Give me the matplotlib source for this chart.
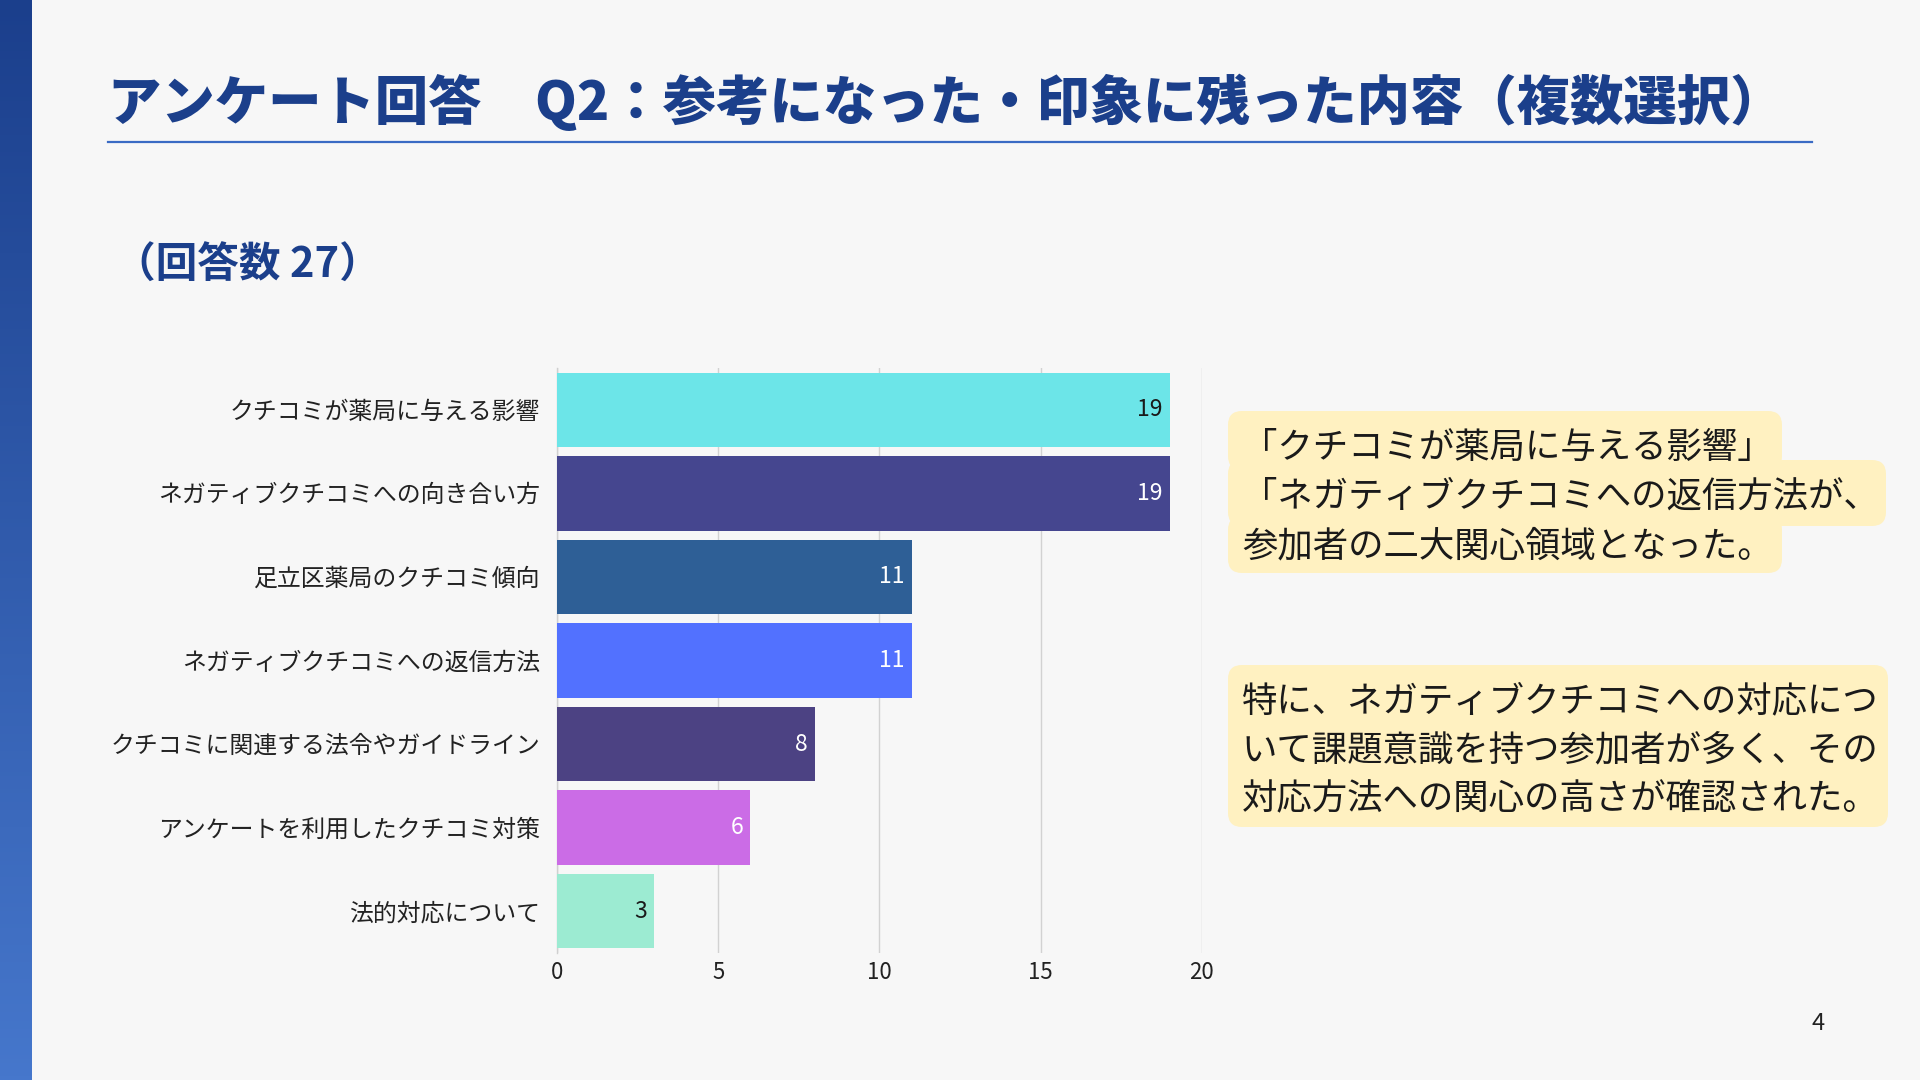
import matplotlib
matplotlib.use("Agg")
import matplotlib.pyplot as plt
import numpy as np
from matplotlib.patches import FancyBboxPatch
from matplotlib.colors import LinearSegmentedColormap

plt.rcParams['font.family'] = ['Noto Sans CJK JP', 'DejaVu Sans']

# ---- data ----
categories = [
    "クチコミが薬局に与える影響",
    "ネガティブクチコミへの向き合い方",
    "足立区薬局のクチコミ傾向",
    "ネガティブクチコミへの返信方法",
    "クチコミに関連する法令やガイドライン",
    "アンケートを利用したクチコミ対策",
    "法的対応について",
]
values = [19, 19, 11, 11, 8, 6, 3]
bar_colors = ["#6ce5e8", "#45468f", "#2e5f96", "#5271ff", "#4c4283", "#cb6ce6", "#9cebd2"]
label_colors = ["#1a1a1a", "white", "white", "white", "white", "white", "#1a1a1a"]
x_ticks = [0, 5, 10, 15, 20]

title = "アンケート回答　Q2：参考になった・印象に残った内容（複数選択）"
subtitle = "（回答数 27）"
box1_lines = ["「クチコミが薬局に与える影響」",
              "「ネガティブクチコミへの返信方法が、",
              "参加者の二大関心領域となった。"]
box2_lines = ["特に、ネガティブクチコミへの対応につ",
              "いて課題意識を持つ参加者が多く、その",
              "対応方法への関心の高さが確認された。"]
page_no = "4"

BG = "#f7f7f7"
NAVY = "#1b3f8b"
BOX = "#fff1c1"

fig = plt.figure(figsize=(19.2, 10.8), dpi=100, facecolor=BG)

# overlay in pixel coordinates
ov = fig.add_axes([0, 0, 1, 1], zorder=0)
ov.axis("off")
ov.set_facecolor(BG)

# left gradient bar
grad = np.linspace(0, 1, 256).reshape(-1, 1)
cmap = LinearSegmentedColormap.from_list("g", ["#1b3f8c", "#4677cc"])
ov.imshow(grad, extent=(0, 32, 1080, 0), cmap=cmap, aspect="auto", zorder=1)
ov.set_xlim(0, 1920)
ov.set_ylim(1080, 0)

# title
ov.text(108, 102, title, fontsize=38.4, fontweight="heavy", color=NAVY,
        ha="left", va="center")
ov.plot([108, 1812], [142, 142], color="#3a6bc4", lw=1.6)

# subtitle
ov.text(114, 266, subtitle, fontsize=30, fontweight="bold", color=NAVY,
        ha="left", va="center")

# text box 1 (per-line highlight)
for (x0, y0, x1, y1) in [(1228, 411, 1782, 470), (1228, 460, 1886, 526), (1228, 516, 1782, 573)]:
    ov.add_patch(FancyBboxPatch((x0, y0), x1 - x0, y1 - y0,
                                boxstyle="round,pad=0,rounding_size=14",
                                fc=BOX, ec="none", zorder=2))
for i, line in enumerate(box1_lines):
    ov.text(1242, 448 + i * 49, line, fontsize=25.5, color="#1a1a1a",
            ha="left", va="center", zorder=3)

# text box 2
ov.add_patch(FancyBboxPatch((1228, 665), 1888 - 1228, 827 - 665,
                            boxstyle="round,pad=0,rounding_size=14",
                            fc=BOX, ec="none", zorder=2))
for i, line in enumerate(box2_lines):
    ov.text(1242, 701 + i * 49, line, fontsize=25.5, color="#1a1a1a",
            ha="left", va="center", zorder=3)

# page number
ov.text(1818, 1024, page_no, fontsize=17, color="#222222", ha="center", va="center")

# ---- bar chart ----
ax = fig.add_axes([0.2901, 0.1176, 0.3359, 0.5417], zorder=1)
ax.set_facecolor("none")
y = np.arange(len(categories))
bars = ax.barh(y, values, height=0.89, color=bar_colors, zorder=3)
ax.set_xlim(0, 20)
ax.set_ylim(len(categories) - 0.5, -0.5)
ax.set_xticks(x_ticks)
ax.set_xticklabels([str(t) for t in x_ticks])
ax.set_yticks(y)
ax.set_yticklabels(categories)
ax.tick_params(axis="y", length=0, pad=12, labelsize=17.2, labelcolor="#222222")
ax.tick_params(axis="x", length=0, pad=6, labelsize=16, labelcolor="#222222")
for s in ["top", "right", "bottom"]:
    ax.spines[s].set_visible(False)
ax.spines["left"].set_color("#d0d0d0")
ax.spines["left"].set_linewidth(1)
ax.grid(axis="x", color="#d2d2d2", lw=1, zorder=0)
ax.set_axisbelow(True)

for b, v, c in zip(bars, values, label_colors):
    ax.annotate(str(v), xy=(v, b.get_y() + b.get_height() / 2),
                xytext=(-5, 0), textcoords="offset points",
                ha="right", va="center", fontsize=16.5, color=c, zorder=4)

fig.savefig("out.png", dpi=100, facecolor=BG)
